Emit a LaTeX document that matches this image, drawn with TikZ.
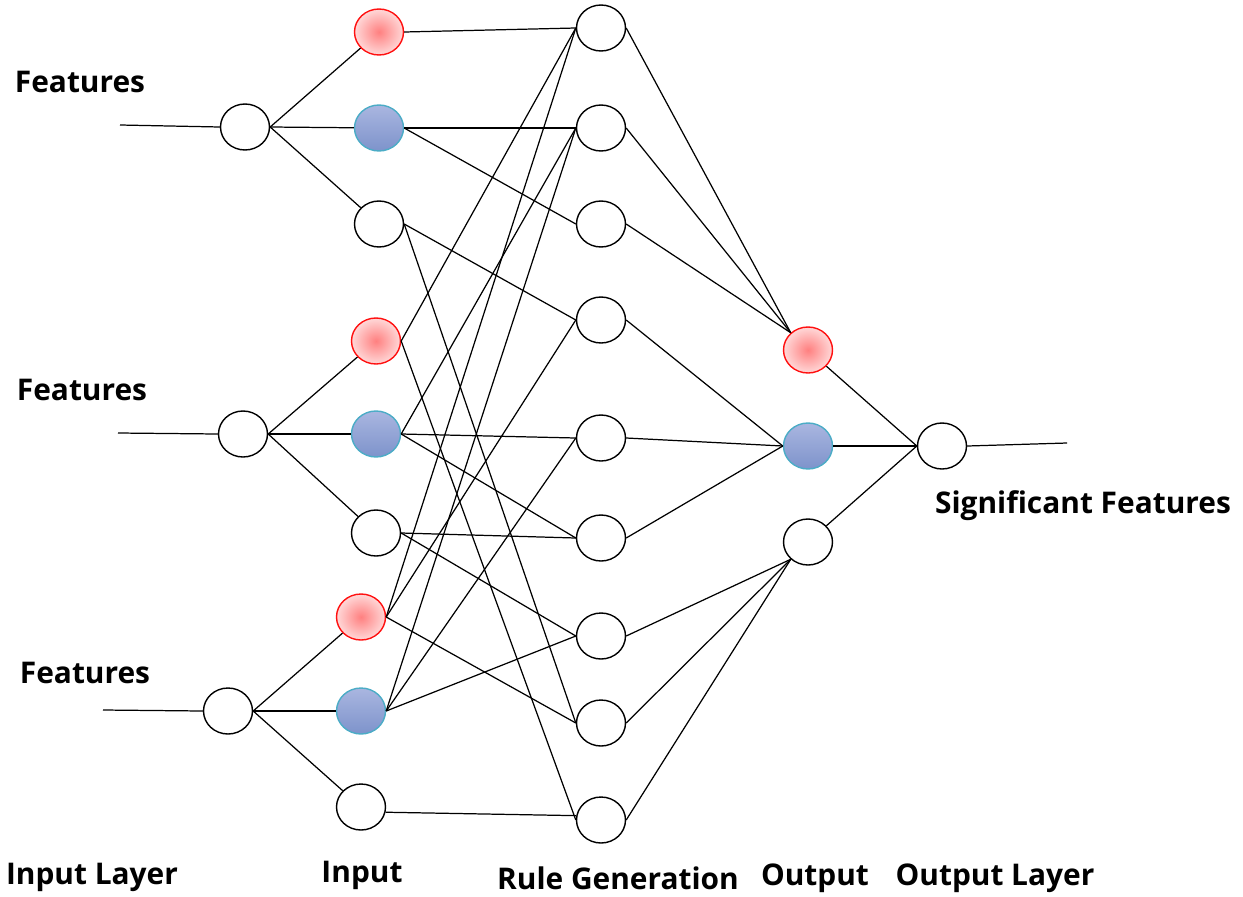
\documentclass[tikz,border=0pt]{standalone}
\usepackage{fontspec}
\setsansfont{Open Sans}
\usetikzlibrary{shapes.geometric}

\definecolor{redrim}{HTML}{FF1010}
\definecolor{redcore}{HTML}{FF8080}
\definecolor{rededge}{HTML}{FFD8D8}
\definecolor{bluerim}{HTML}{4BACC6}
\definecolor{bluetop}{HTML}{AAB6E0}
\definecolor{bluebot}{HTML}{7D93CB}

\begin{document}
\begin{tikzpicture}[x=0.02cm, y=-0.02cm,
    neuron/.style={ellipse, draw, line width=0.8pt, minimum width=0.98cm,
      minimum height=0.92cm, inner sep=0pt},
    rednode/.style={neuron, draw=redrim, inner color=redcore, outer color=rededge},
    bluenode/.style={neuron, draw=bluerim, top color=bluetop, bottom color=bluebot},
    wire/.style={line width=0.7pt},
    lbl/.style={font=\sffamily\bfseries\fontsize{17}{20}\selectfont}]
                \useasboundingbox (0,0) rectangle (1243,896);

                % Define the coordinates
                \coordinate (f1) at (120,125);
                \coordinate (f2) at (118,433);
                \coordinate (f3) at (103,710);
                \coordinate (sig) at (1067,443);

                % Draw the input layer
                \node[neuron] (I1) at (245,127) {};
                \node[neuron] (I2) at (243,434) {};
                \node[neuron] (I3) at (228,711) {};

                % Draw the fuzzy inputs
                \node[rednode] (A1) at (379,32) {};
                \node[bluenode] (A2) at (379,128) {};
                \node[neuron] (A3) at (379,224) {};
                \node[rednode] (B1) at (376,341) {};
                \node[bluenode] (B2) at (376,434) {};
                \node[neuron] (B3) at (376,533) {};
                \node[rednode] (C1) at (361,617) {};
                \node[bluenode] (C2) at (361,711) {};
                \node[neuron] (C3) at (361,807) {};

                % Draw the rule nodes
                \foreach \i/\y in {1/28,2/128,3/224,4/320,5/438,6/538,7/636,8/723,9/820}
                  \node[neuron] (R\i) at (601,\y) {};

                % Draw the outputs
                \node[rednode] (O1) at (808,350) {};
                \node[bluenode] (O2) at (808,446) {};
                \node[neuron] (O3) at (808,542) {};
                \node[neuron] (F) at (942,446) {};

                % Draw the feature lines
                \draw[wire] (f1) -- (I1.west);
                \draw[wire] (f2) -- (I2.west);
                \draw[wire] (f3) -- (I3.west);
                \foreach \a in {A1,A2,A3} \draw[wire] (I1.east) -- (\a);
                \foreach \b in {B1,B2,B3} \draw[wire] (I2.east) -- (\b);
                \foreach \c in {C1,C2,C3} \draw[wire] (I3.east) -- (\c);

                % Draw the rule connections
                \foreach \s/\t in {A1/R1,A2/R2,A2/R3,A3/R4,A3/R8,B1/R1,B1/R9,
                    B2/R2,B2/R5,B2/R6,B3/R6,B3/R7,C1/R1,C1/R4,C1/R8,
                    C2/R2,C2/R5,C2/R7}
                  \draw[wire] (\s.east) -- (\t.west);
                \draw[wire] (C3.-12) -- (R9.170);

                % Draw the output connections
                \foreach \r in {R1,R2,R3} \draw[wire] (\r.east) -- (O1.135);
                \foreach \r in {R4,R5,R6} \draw[wire] (\r.east) -- (O2.west);
                \foreach \r in {R7,R8,R9} \draw[wire] (\r.east) -- (O3.225);
                \draw[wire] (O1) -- (F.west);
                \draw[wire] (O2.east) -- (F.west);
                \draw[wire] (O3) -- (F.west);
                \draw[wire] (F.east) -- (sig);

                % Draw the labels
                \node[lbl] (feat1) at (80,82) {Features};
                \node[lbl] (feat2) at (82,390) {Features};
                \node[lbl] (feat3) at (85,673) {Features};
                \node[lbl] (sigfeat) at (1083,506) {Significant Features};
                \node[lbl] (inlayer) at (92,877) {Input Layer};
                \node[lbl] (input) at (362,875) {Input};
                \node[lbl] (rulegen) at (618,878) {Rule Generation};
                \node[lbl] (output) at (815,878) {Output};
                \node[lbl] (outlayer) at (995,878) {Output Layer};
              \end{tikzpicture}
\end{document}
